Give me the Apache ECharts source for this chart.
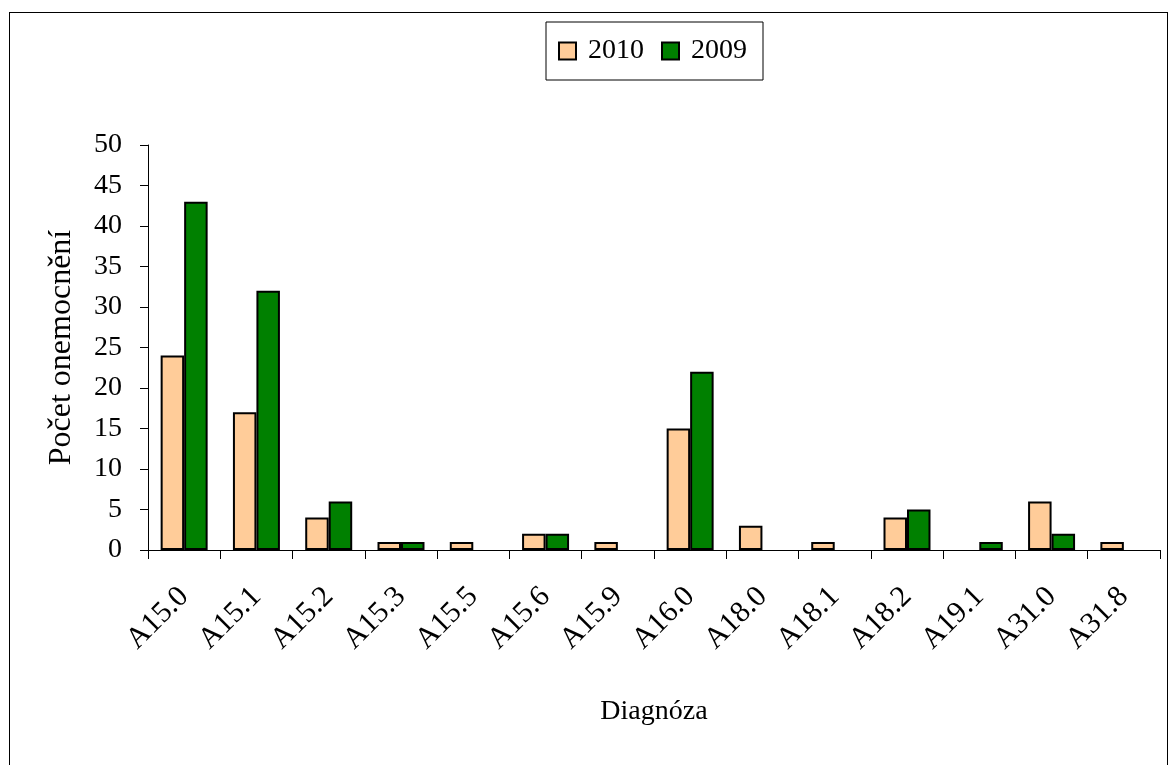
<!DOCTYPE html>
<html>
<head>
<meta charset="utf-8">
<script src="https://cdn.jsdelivr.net/npm/echarts@6/dist/echarts.min.js"></script>
<style>
  html, body { margin: 0; padding: 0; background: #fff; }
  #frame { position: absolute; left: 9px; top: 12px; width: 1157px; height: 760px; border: 1px solid #000; }
  #chart { position: absolute; left: 0; top: 0; width: 1170px; height: 765px; }
</style>
</head>
<body>
<div id="frame"></div>
<div id="chart"></div>
<script>
const diagnoses = ['A15.0', 'A15.1', 'A15.2', 'A15.3', 'A15.5', 'A15.6', 'A15.9', 'A16.0', 'A18.0', 'A18.1', 'A18.2', 'A19.1', 'A31.0', 'A31.8'];
const cases2010 = [24, 17, 4, 1, 1, 2, 1, 15, 3, 1, 4, 0, 6, 1];
const cases2009 = [43, 32, 6, 1, 0, 2, 0, 22, 0, 0, 5, 1, 2, 0];

const font = '"Liberation Serif", "DejaVu Serif", serif';
const chart = echarts.init(document.getElementById('chart'));
// zero counts are drawn as no bar at all
const noZero = arr => arr.map(v => (v === 0 ? null : v));

chart.setOption({
  animation: false,
  textStyle: { fontFamily: font, color: '#000' },
  legend: {
    top: 22,
    left: 546,
    padding: [15, 16, 15, 12],
    borderColor: '#000',
    borderWidth: 1,
    itemWidth: 17,
    itemHeight: 17,
    itemGap: 17,
    textStyle: { fontFamily: font, fontSize: 28, color: '#000', padding: [0, 0, 0, 7] },
    data: [
      { name: '2010', icon: 'rect', itemStyle: { borderColor: '#000', borderWidth: 2 } },
      { name: '2009', icon: 'rect', itemStyle: { borderColor: '#000', borderWidth: 2 } }
    ]
  },
  grid: { left: 148, right: 10, top: 145, bottom: 215, containLabel: false },
  xAxis: {
    type: 'category',
    data: diagnoses,
    name: 'Diagnóza',
    nameLocation: 'middle',
    nameGap: 148,
    nameTextStyle: { fontFamily: font, fontSize: 28, color: '#000' },
    axisLine: { lineStyle: { color: '#000', width: 1 } },
    axisTick: { show: true, alignWithLabel: false, length: 9, lineStyle: { color: '#000', width: 1 } },
    axisLabel: { rotate: 45, margin: 42, fontFamily: font, fontSize: 30, color: '#000' }
  },
  yAxis: {
    type: 'value',
    min: 0,
    max: 50,
    interval: 5,
    name: 'Počet onemocnění',
    nameLocation: 'middle',
    nameGap: 70,
    nameTextStyle: { fontFamily: font, fontSize: 32, color: '#000' },
    axisLine: { show: true, lineStyle: { color: '#000', width: 1 } },
    axisTick: { show: true, length: 8, lineStyle: { color: '#000' } },
    axisLabel: { margin: 26, fontFamily: font, fontSize: 28, color: '#000' },
    splitLine: { show: false }
  },
  series: [
    {
      name: '2010',
      type: 'bar',
      data: noZero(cases2010),
      barGap: '0%',
      barCategoryGap: '35%',
      itemStyle: { color: '#ffcc99', borderColor: '#000', borderWidth: 2 }
    },
    {
      name: '2009',
      type: 'bar',
      data: noZero(cases2009),
      barGap: '0%',
      barCategoryGap: '35%',
      itemStyle: { color: '#008000', borderColor: '#000', borderWidth: 2 }
    }
  ]
});
</script>
</body>
</html>
